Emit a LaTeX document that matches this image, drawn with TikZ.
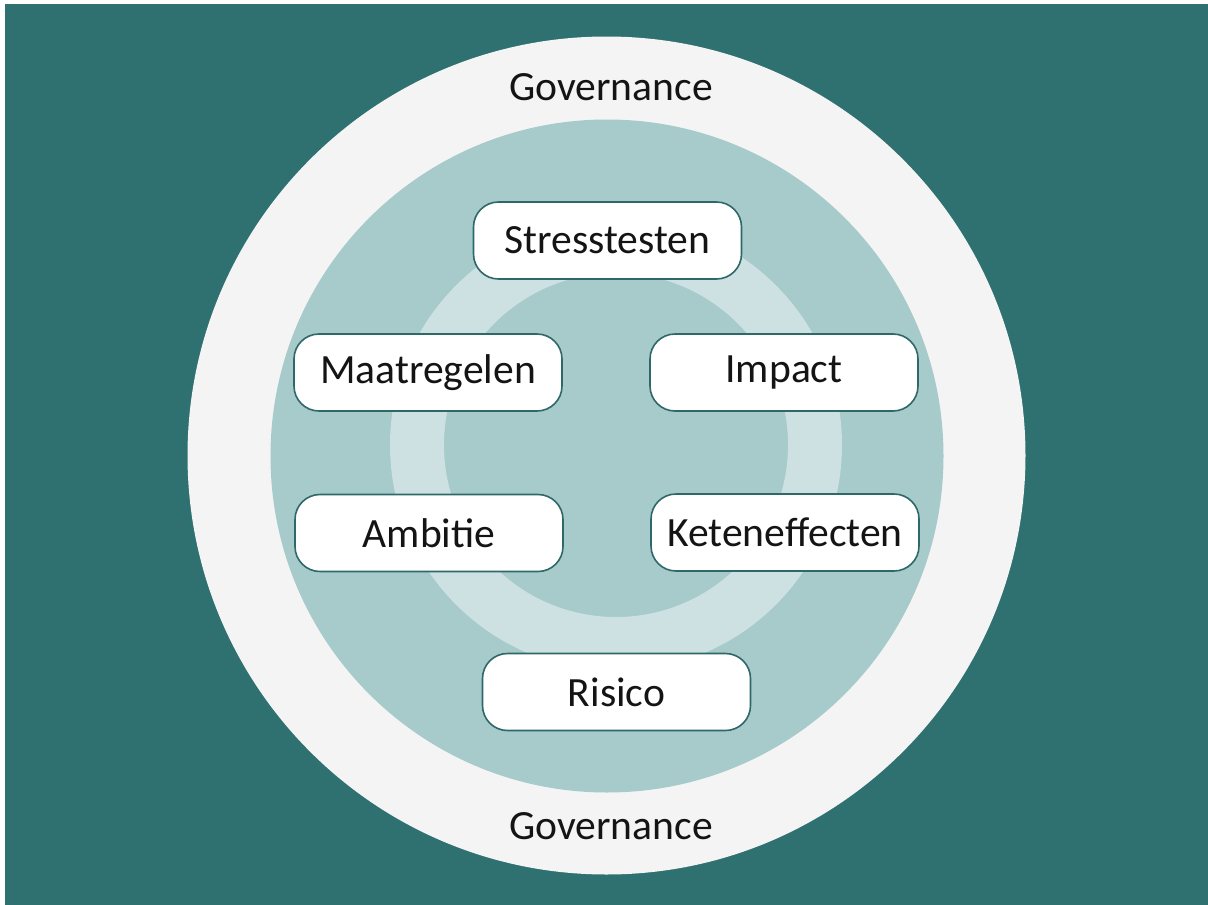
\documentclass[tikz,border=0pt]{standalone}
\usepackage{fontspec}
\setmainfont{Carlito}
\definecolor{bgteal}{HTML}{2F7070}
\definecolor{outerw}{HTML}{F4F4F4}
\definecolor{innerc}{HTML}{A7CACB}
\definecolor{ringc}{HTML}{CEE1E2}
\definecolor{boxline}{HTML}{2E6868}
\definecolor{txt}{HTML}{141414}
\tikzset{
  stepbox/.style={draw=boxline, line width=1.6pt, fill=white, rounded corners=25pt,
    minimum width=268pt, minimum height=77pt, inner sep=0pt, text=txt,
    font=\fontsize{41.6}{50}\selectfont},
  govlabel/.style={text=txt, inner sep=0pt, font=\fontsize{41.6}{50}\selectfont}
}
\begin{document}
\begin{tikzpicture}[x=1pt,y=-1pt]
\useasboundingbox (0,0) rectangle (1208,905);
\fill[white] (0,0) rectangle (1208,905);
\fill[bgteal] (5,4) rectangle (1208,905);
% outer white circle
\fill[outerw] (606.5,455.5) circle[radius=419];
% inner light teal circle
\fill[innerc] (607,456) circle[radius=336.5];
% light ring
\fill[ringc, even odd rule] (616,445) circle[radius=226] (616,445) circle[radius=172];
% labels
\node[govlabel] (govtop) at (611,87) {Governance};
\node[govlabel] (govbot) at (611,826) {Governance};
% boxes
\node[stepbox] (stress) at (607.5,240.5) {Stresstesten};
\node[stepbox] (maat) at (428,372.5) {Maatregelen};
\node[stepbox] (impact) at (784,372.5) {Impact};
\node[stepbox] (ambitie) at (429,533) {Ambitie};
\node[stepbox] (keten) at (785,532.5) {Keteneffecten};
\node[stepbox] (risico) at (616.5,692) {Risico};
\end{tikzpicture}
\end{document}
